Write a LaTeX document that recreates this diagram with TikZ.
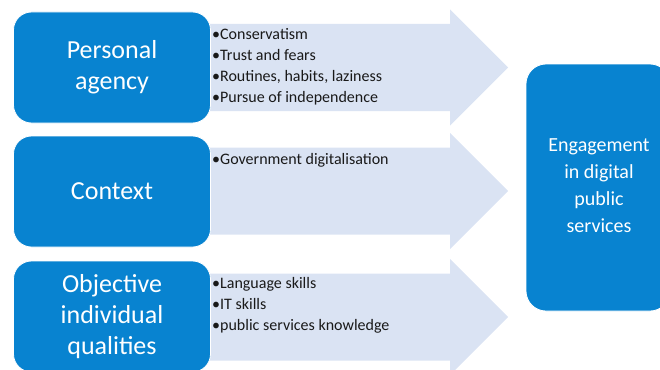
\documentclass[tikz,border=0pt]{standalone}
\usepackage{fontspec}
\setmainfont{Carlito}
\definecolor{boxblue}{RGB}{8,131,208}
\definecolor{arrowblue}{RGB}{218,227,243}
\definecolor{bullettext}{RGB}{25,25,25}
\begin{document}
\begin{tikzpicture}[x=1pt,y=-1pt,
  factor/.style={draw=white, line width=0.8pt, fill=boxblue, rounded corners=18pt,
    minimum width=197pt, minimum height=111pt, text=white, align=center,
    font=\fontsize{26}{31}\selectfont, inner sep=0pt},
  outcome/.style={draw=white, line width=0.8pt, fill=boxblue, rounded corners=20pt,
    minimum width=144pt, minimum height=247pt, text=white, align=center,
    font=\fontsize{20}{27}\selectfont, inner sep=0pt},
  item/.style={anchor=base west, inner sep=0pt, text=bullettext,
    font=\fontsize{16}{21}\selectfont},
  band/.style={fill=arrowblue}
]
\useasboundingbox (0,0) rectangle (660,369);
\clip (0,0) rectangle (660,369);

% broad arrows leading from each factor towards the outcome
\foreach \c in {67.5,191,317}
  \fill[band] (205,{\c-43.5}) -- (450,{\c-43.5}) -- (450,{\c-58}) -- (508,\c)
    -- (450,{\c+58}) -- (450,{\c+43.5}) -- (205,{\c+43.5}) -- cycle;

% factor boxes
\node[factor] (agency) at (112,67.5) {Personal\\agency};
\node[factor] (context) at (112,191.5) {Context};
\node[factor] (qualities) at (112,316.5) {Objective\\individual\\qualities};

% outcome box, its text set slightly above centre
\node[outcome] (engagement) at (598,187.5) {};
\node[text=white, align=center, font=\fontsize{20}{27}\selectfont, inner sep=0pt]
  (engagementtext) at (599,185.5) {Engagement\\in digital\\public\\services};

% items carried by each arrow
\node[item] (a1) at (212,39.5) {•Conservatism};
\node[item] (a2) at (212,60.5) {•Trust and fears};
\node[item] (a3) at (212,81.5) {•Routines, habits, laziness};
\node[item] (a4) at (212,102.5) {•Pursue of independence};

\node[item] (c1) at (212,164) {•Government digitalisation};

\node[item] (q1) at (212,288) {•Language skills};
\node[item] (q2) at (212,309) {•IT skills};
\node[item] (q3) at (212,330) {•public services knowledge};
\end{tikzpicture}
\end{document}
